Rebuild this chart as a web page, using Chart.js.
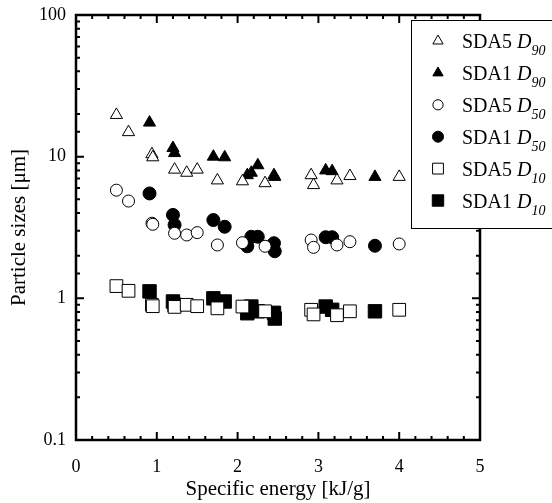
<!DOCTYPE html>
<html>
<head>
<meta charset="utf-8">
<script src="https://cdn.jsdelivr.net/npm/chart.js@4.4.0/dist/chart.umd.min.js"></script>
<style>
  html, body { margin: 0; padding: 0; background: #fff; }
</style>
</head>
<body>
<canvas id="chart" width="552" height="503"></canvas>
<script>
'use strict';

// Specific energy [kJ/g] for each sample set
var sda5Energy = [0.50, 0.65, 0.94, 0.95, 1.22, 1.37, 1.50, 1.75, 2.06, 2.34, 2.91, 2.94, 3.23, 3.39, 4.00];
var sda1Energy = [0.91, 1.20, 1.22, 1.70, 1.84, 2.12, 2.17, 2.25, 2.45, 2.46, 3.09, 3.17, 3.70];

// Particle sizes [um]
var sda5D90 = [19.7, 14.9, 10.4, 9.9, 8.1, 7.7, 8.1, 6.8, 6.7, 6.5, 7.4, 6.3, 6.8, 7.3, 7.2];
var sda1D90 = [17.4, 11.5, 10.6, 10.0, 9.9, 7.4, 7.7, 8.7, 7.4, 7.2, 8.0, 7.9, 7.2];
var sda5D50 = [5.8, 4.86, 3.39, 3.33, 2.88, 2.8, 2.91, 2.38, 2.47, 2.33, 2.58, 2.29, 2.38, 2.51, 2.42];
var sda1D50 = [5.5, 3.88, 3.3, 3.57, 3.2, 2.33, 2.72, 2.72, 2.45, 2.15, 2.7, 2.7, 2.35];
var sda5D10 = [1.22, 1.13, 0.90, 0.88, 0.87, 0.90, 0.88, 0.85, 0.875, 0.81, 0.83, 0.77, 0.76, 0.81, 0.83];
var sda1D10 = [1.12, 0.95, 0.90, 1.0, 0.95, 0.785, 0.875, 0.81, 0.79, 0.72, 0.875, 0.83, 0.81];

// Legend labels: [prefix, subscript]
var legendLabels = [['SDA5', '90'], ['SDA1', '90'], ['SDA5', '50'], ['SDA1', '50'], ['SDA5', '10'], ['SDA1', '10']];

var xMin = 0, xMax = 5;
var yMin = 0.1, yMax = 100;

var serif = "'Liberation Serif', 'Times New Roman', serif";

var toPoints = function (xs, ys) {
    return xs.map(function (x, i) { return { x: x, y: ys[i] }; });
};

var makeSet = function (xs, ys, style, filled, radius) {
    return {
        data: toPoints(xs, ys),
        pointStyle: style,
        pointRadius: radius,
        pointHoverRadius: radius,
        pointBorderWidth: 1,
        pointBorderColor: '#000',
        pointBackgroundColor: filled ? '#000' : '#fff',
        showLine: false,
        clip: false
    };
};

var datasets = [
    makeSet(sda5Energy, sda5D90, 'triangle', false, 7),
    makeSet(sda1Energy, sda1D90, 'triangle', true, 7),
    makeSet(sda5Energy, sda5D50, 'circle', false, 6),
    makeSet(sda1Energy, sda1D50, 'circle', true, 6.5),
    makeSet(sda5Energy, sda5D10, 'rect', false, 9),
    makeSet(sda1Energy, sda1D10, 'rect', true, 9.5)
];

function isDecade(v) {
    var l = Math.log10(v);
    return Math.abs(l - Math.round(l)) < 1e-6;
}

// Frame with inward ticks on all four sides, plus the legend box
var framePlugin = {
    id: 'frame',
    beforeDatasetsDraw: function (chart) {
        var ctx = chart.ctx, a = chart.chartArea;
        var xs = chart.scales.x, ys = chart.scales.y;
        ctx.save();
        ctx.strokeStyle = '#000';
        ctx.lineWidth = 2;
        ctx.beginPath();
        xs.ticks.forEach(function (t) {
            var px = xs.getPixelForValue(t.value);
            var major = Math.abs(t.value - Math.round(t.value)) < 1e-6;
            var len = major ? 8 : 4;
            ctx.moveTo(px, a.bottom); ctx.lineTo(px, a.bottom - len);
            ctx.moveTo(px, a.top); ctx.lineTo(px, a.top + len);
        });
        ys.ticks.forEach(function (t) {
            var py = ys.getPixelForValue(t.value);
            var len = isDecade(t.value) ? 8 : 4;
            ctx.moveTo(a.left, py); ctx.lineTo(a.left + len, py);
            ctx.moveTo(a.right, py); ctx.lineTo(a.right - len, py);
        });
        ctx.stroke();
        ctx.lineWidth = 2.5;
        ctx.strokeRect(a.left, a.top, a.right - a.left, a.bottom - a.top);
        ctx.restore();
    },
    afterDraw: function (chart) {
        var ctx = chart.ctx;
        var boxX = 411, boxY = 20, boxW = 150, boxH = 208;
        ctx.save();
        ctx.fillStyle = '#fff';
        ctx.fillRect(boxX, boxY, boxW, boxH);
        ctx.strokeStyle = '#000';
        ctx.lineWidth = 1;
        ctx.strokeRect(boxX + 0.5, boxY + 0.5, boxW, boxH);
        legendLabels.forEach(function (lab, i) {
            var ds = chart.data.datasets[i];
            var cy = 41 + i * 31.9;
            ctx.fillStyle = ds.pointBackgroundColor;
            ctx.strokeStyle = '#000';
            ctx.lineWidth = 1;
            Chart.helpers.drawPoint(ctx, {
                pointStyle: ds.pointStyle,
                radius: ds.pointRadius * 0.85,
                borderWidth: 1,
                rotation: 0
            }, 438, cy);
            ctx.fillStyle = '#000';
            ctx.textBaseline = 'alphabetic';
            ctx.textAlign = 'left';
            ctx.font = '20px ' + serif;
            var tx = 462, ty = cy + 7;
            var pre = lab[0] + ' ';
            ctx.fillText(pre, tx, ty);
            tx += ctx.measureText(pre).width;
            ctx.font = 'italic 20px ' + serif;
            ctx.fillText('D', tx, ty);
            tx += ctx.measureText('D').width;
            ctx.font = 'italic 14px ' + serif;
            ctx.fillText(lab[1], tx, ty + 7);
        });
        ctx.restore();
    }
};

new Chart(document.getElementById('chart'), {
    type: 'scatter',
    data: { datasets: datasets },
    options: {
        responsive: false,
        animation: false,
        layout: { padding: { top: 15, right: 72, bottom: 0, left: 0 } },
        plugins: {
            legend: { display: false },
            tooltip: { enabled: false }
        },
        scales: {
            x: {
                type: 'linear',
                min: xMin,
                max: xMax,
                border: { display: false },
                grid: { display: false, drawTicks: false },
                ticks: {
                    stepSize: 0.2,
                    autoSkip: false,
                    maxRotation: 0,
                    padding: 16,
                    color: '#000',
                    font: { family: serif, size: 18 },
                    callback: function (v) {
                        return Math.abs(v - Math.round(v)) < 1e-6 ? String(Math.round(v)) : '';
                    }
                },
                title: {
                    display: true,
                    text: 'Specific energy [kJ/g]',
                    color: '#000',
                    font: { family: serif, size: 21, lineHeight: 1.2 },
                    padding: { top: 0, bottom: 1 }
                },
                afterFit: function (scale) {
                    scale.height = 63;
                    scale.paddingLeft = 0;
                    scale.paddingRight = 0;
                }
            },
            y: {
                type: 'logarithmic',
                min: yMin,
                max: yMax,
                border: { display: false },
                grid: { display: false, drawTicks: false },
                ticks: {
                    autoSkip: false,
                    padding: 10,
                    color: '#000',
                    font: { family: serif, size: 18 },
                    callback: function (v) {
                        if (!isDecade(v)) return '';
                        var p = Math.round(Math.log10(v));
                        return p < 0 ? '0.1' : String(Math.pow(10, p));
                    }
                },
                title: {
                    display: true,
                    text: 'Particle sizes [μm]',
                    color: '#000',
                    font: { family: serif, size: 21, lineHeight: 1.2 },
                    padding: { top: 7, bottom: 0 }
                },
                afterFit: function (scale) {
                    scale.width = 76;
                    scale.paddingTop = 0;
                    scale.paddingBottom = 0;
                }
            }
        }
    },
    plugins: [framePlugin]
});
</script>
</body>
</html>
